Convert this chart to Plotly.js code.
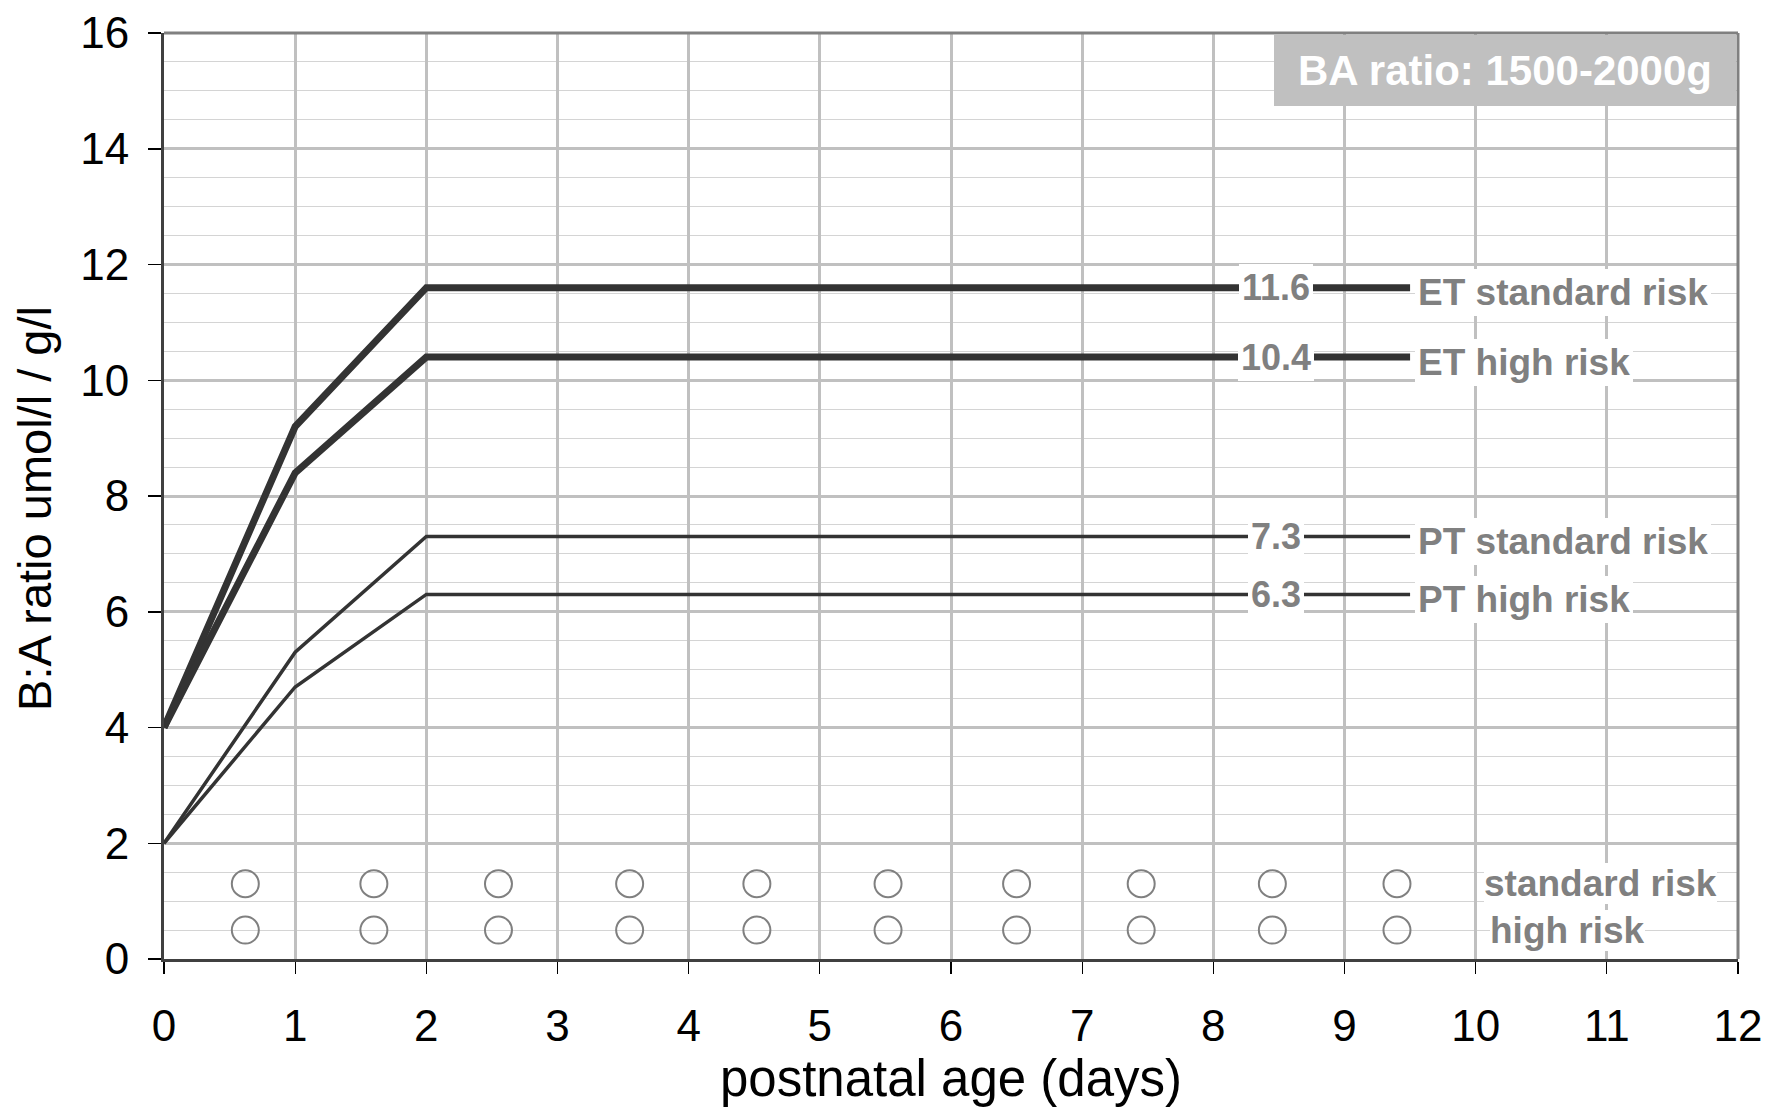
<!DOCTYPE html>
<html>
<head>
<meta charset="utf-8">
<script src="https://cdn.plot.ly/plotly-3.0.1.min.js"></script>
<style>
  html, body { margin: 0; padding: 0; background: #ffffff; }
  #chart { width: 1775px; height: 1107px; }
</style>
</head>
<body>
<div id="chart"></div>
<script>
// Bilirubin:albumin ratio thresholds, 1500-2000 g birth weight
// ET = exchange transfusion, PT = phototherapy
const days = [0, 1, 2, 9.5];
const etStandard = [4, 9.2, 11.6, 11.6];
const etHigh = [4, 8.4, 10.4, 10.4];
const ptStandard = [2, 5.3, 7.3, 7.3];
const ptHigh = [2, 4.7, 6.3, 6.3];
const seriesNames = ['ET standard risk', 'ET high risk', 'PT standard risk', 'PT high risk'];

// empty circles for recording a daily value, one row per risk group
const entryDays = [0.62, 1.6, 2.55, 3.55, 4.52, 5.52, 6.5, 7.45, 8.45, 9.4];
const entryRows = [1.3, 0.5];
const entryRowNames = ['standard risk', 'high risk'];

const boxTitle = 'BA ratio: 1500-2000g';
const xTitle = 'postnatal age (days)';
const yTitle = 'B:A ratio umol/l / g/l';
const xTickVals = [0, 1, 2, 3, 4, 5, 6, 7, 8, 9, 10, 11, 12];
const yTickVals = [0, 2, 4, 6, 8, 10, 12, 14, 16];

const FONT = '"Liberation Sans", Arial, Helvetica, sans-serif';
const LINE = '#333333';
const GREY = '#808080';

const series = [etStandard, etHigh, ptStandard, ptHigh];
const widths = [7, 7, 3.5, 3.5];

const traces = series.map((ys, i) => ({
  type: 'scatter',
  mode: 'lines',
  x: days,
  y: ys,
  name: seriesNames[i],
  line: { color: LINE, width: widths[i] },
  hoverinfo: 'x+y+name'
}));

entryRows.forEach((row, i) => {
  traces.push({
    type: 'scatter',
    mode: 'markers',
    x: entryDays,
    y: entryDays.map(() => row),
    name: entryRowNames[i],
    marker: { symbol: 'circle-open', size: 27, color: GREY, line: { color: GREY, width: 2 } },
    hoverinfo: 'name'
  });
});

const annotations = [];

// plateau value labels on each threshold line
series.forEach((ys, i) => {
  const plateau = ys[ys.length - 1];
  annotations.push({
    x: 8.48, y: plateau, xref: 'x', yref: 'y',
    text: plateau.toFixed(1),
    showarrow: false, xanchor: 'center', yanchor: 'middle',
    bgcolor: '#ffffff', borderpad: 3, borderwidth: 0,
    font: { family: FONT, size: 36, color: GREY, weight: 700 }
  });
  // series name at the end of the line
  annotations.push({
    x: days[days.length - 1], y: plateau, xref: 'x', yref: 'y',
    xshift: 5, yshift: -5,
    text: seriesNames[i],
    showarrow: false, xanchor: 'left', yanchor: 'middle',
    bgcolor: '#ffffff', borderpad: 3, borderwidth: 0,
    font: { family: FONT, size: 37, color: GREY, weight: 700 }
  });
});

// row labels for the entry circles
const rowLabelX = [10.95, 10.7];
entryRows.forEach((row, i) => {
  annotations.push({
    x: rowLabelX[i], y: row, xref: 'x', yref: 'y',
    text: entryRowNames[i],
    showarrow: false, xanchor: 'center', yanchor: 'middle',
    bgcolor: '#ffffff', borderpad: 0, borderwidth: 0,
    font: { family: FONT, size: 37, color: GREY, weight: 700 }
  });
});

// heading box, top right corner of the plot
annotations.push({
  x: 1, y: 1, xref: 'paper', yref: 'paper',
  xanchor: 'right', yanchor: 'top', xshift: -2, yshift: -2,
  text: boxTitle, showarrow: false,
  bgcolor: '#c0c0c0', borderwidth: 0, borderpad: 5,
  width: 452, height: 61,
  font: { family: FONT, size: 42, color: '#ffffff', weight: 700 }
});

// vertical axis title, set slightly below the plot centre
annotations.push({
  x: 0, y: 0.486, xref: 'paper', yref: 'paper',
  xanchor: 'center', yanchor: 'middle', xshift: -129,
  text: yTitle, textangle: -90, showarrow: false,
  font: { family: FONT, size: 47, color: '#000000' }
});

const layout = {
  width: 1775,
  height: 1107,
  paper_bgcolor: '#ffffff',
  plot_bgcolor: '#ffffff',
  showlegend: false,
  margin: { l: 163.5, r: 36.5, t: 33, b: 148.3, autoexpand: false },
  font: { family: FONT, color: '#000000' },
  xaxis: {
    range: [0, 12],
    tickvals: xTickVals,
    ticktext: xTickVals.map(String),
    showgrid: true, gridcolor: '#c0c0c0', gridwidth: 3,
    zeroline: false,
    showline: true, linecolor: '#404040', linewidth: 3,
    ticks: 'outside', ticklen: 12, tickwidth: 1.2, tickcolor: '#000000',
    ticklabelstandoff: 14,
    tickfont: { family: FONT, size: 44, color: '#000000' },
    title: { text: xTitle, standoff: 0, font: { family: FONT, size: 51, color: '#000000' } },
    automargin: false,
    fixedrange: true
  },
  yaxis: {
    range: [0, 16],
    tickvals: yTickVals,
    ticktext: yTickVals.map(String),
    showgrid: true, gridcolor: '#c0c0c0', gridwidth: 3,
    minor: { dtick: 0.5, showgrid: true, gridcolor: '#d4d4d4', gridwidth: 1, ticks: '' },
    zeroline: false,
    showline: true, linecolor: '#404040', linewidth: 3,
    ticks: 'outside', ticklen: 13, tickwidth: 1.5, tickcolor: '#000000',
    ticklabelstandoff: 10,
    tickfont: { family: FONT, size: 44, color: '#000000' },
    automargin: false,
    fixedrange: true
  },
  shapes: [
    // top and right frame of the plot area
    { type: 'line', xref: 'paper', yref: 'paper', x0: 0, x1: 1, y0: 1, y1: 1, line: { color: GREY, width: 3 } },
    { type: 'line', xref: 'paper', yref: 'paper', x0: 1, x1: 1, y0: 0, y1: 1, line: { color: GREY, width: 3 } }
  ],
  annotations: annotations
};

Plotly.newPlot('chart', traces, layout, { displayModeBar: false, staticPlot: true });
</script>
</body>
</html>
